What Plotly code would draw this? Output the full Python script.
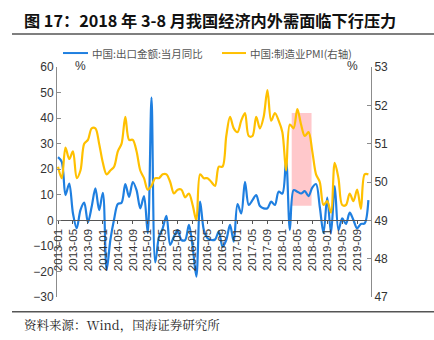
import plotly.graph_objects as go

# Months 2013-01 .. 2019-12
months = [f"{y}-{m:02d}" for y in range(2013, 2020) for m in range(1, 13)]

export_yoy = [
    24.7, 22.9, 9.9, 14.4, 2.7, -3.1, 4.0, 6.9, -0.8, 5.3, 12.5, 4.0,
    10.8, -19.4, -7.7, 0.4, 6.4, 6.9, 14.2, 9.2, 15.0, 11.8, 4.7, 9.5,
    -5.0, 48.0, -16.5, -6.4, -3.1, 1.8, -9.6, -6.4, -3.8, -7.7, -7.7, -1.8,
    -10.3, -22.0, 7.3, -3.8, -7.0, -7.7, -7.5, -4.4, -10.3, -7.7, -1.8, -8.3,
    6.4, 2.7, 15.1, 6.0, 7.9, 9.9, 5.6, 4.7, 4.7, 7.3, 6.0, 11.2,
    10.5, 23.8, -3.8, 11.8, 11.2, 10.5, 11.4, 9.5, 12.8, 14.2, 5.3, -5.0,
    8.9, -5.0, 13.4, -3.8, 0.8, -1.4, 3.0, 0.1, -3.1, -1.4, -1.2, 7.9,
]

pmi = [
    50.4, 50.1, 50.9, 50.6, 50.8, 50.1, 50.3, 51.0, 51.1, 51.4, 51.4, 51.0,
    50.5, 50.2, 50.3, 50.4, 50.8, 51.0, 51.7, 51.1, 51.1, 50.8, 50.3, 50.1,
    49.8, 49.9, 50.1, 50.1, 50.2, 50.2, 50.0, 49.7, 49.8, 49.8, 49.6, 49.7,
    49.4, 49.0, 50.2, 50.1, 50.1, 50.0, 49.9, 50.4, 50.4, 51.2, 51.7, 51.4,
    51.3, 51.6, 51.8, 51.2, 51.2, 51.7, 51.4, 51.7, 52.4, 51.6, 51.8, 51.6,
    51.3, 50.3, 51.5, 51.4, 51.9, 51.5, 51.2, 51.3, 50.8, 50.2, 50.0, 49.4,
    49.5, 49.2, 50.5, 50.1, 49.4, 49.4, 49.7, 49.5, 49.8, 49.3, 50.2, 50.2,
]

left_ticks = [60, 50, 40, 30, 20, 10, 0, -10, -20, -30]
right_ticks = [53, 52, 51, 50, 49, 48, 47]
x_idx = list(range(len(months)))
tick_idx = x_idx[::4]
tick_text = [months[i] for i in tick_idx]

# highlight window 2018-03 .. 2018-08 (month indices), in right-axis units
hl_x = [62.5, 67.8]
hl_y = [49.38, 51.8]

BLUE = "#1F7FE0"
YELLOW = "#FFC000"
AX = "#8C8C8C"
TXT = "#333333"

fig = go.Figure()

fig.add_shape(type="rect", xref="x", yref="y2", x0=hl_x[0], x1=hl_x[1],
              y0=hl_y[0], y1=hl_y[1], fillcolor="rgba(255,170,175,0.65)",
              line_width=0, layer="below")

fig.add_trace(go.Scatter(x=x_idx, y=pmi, yaxis="y2", mode="lines",
                         line=dict(color=YELLOW, width=2.2, shape="spline", smoothing=0.9),
                         showlegend=False))
fig.add_trace(go.Scatter(x=x_idx, y=export_yoy, mode="lines",
                         line=dict(color=BLUE, width=2.2, shape="spline", smoothing=0.9),
                         showlegend=False))

tick_font = dict(family="Liberation Sans, Arial, sans-serif", size=12, color=TXT)

fig.update_layout(
    width=434, height=340,
    margin=dict(l=57, r=63, t=67, b=43),
    paper_bgcolor="white", plot_bgcolor="white",
    xaxis=dict(range=[-0.27, 83.7], tickvals=tick_idx, ticktext=tick_text,
               tickangle=-90, showgrid=False, zeroline=False,
               showline=True, linecolor="#555555", linewidth=1,
               ticks="outside", ticklen=3, tickcolor="#555555",
               anchor="free", position=1/3,
               tickfont=dict(family="Liberation Sans, Arial, sans-serif", size=11.5, color=TXT)),
    yaxis=dict(range=[-30, 60], tickvals=left_ticks, showgrid=False, zeroline=False,
               showline=True, linecolor=AX, linewidth=1,
               ticks="inside", ticklen=4, tickcolor=AX, tickfont=tick_font),
    yaxis2=dict(range=[47, 53], tickvals=right_ticks, overlaying="y", side="right",
                showgrid=False, zeroline=False, showline=True, linecolor=AX, linewidth=1,
                ticks="inside", ticklen=4, tickcolor=AX, tickfont=tick_font),
)

# percent unit labels
fig.add_annotation(xref="paper", yref="paper", x=(80 - 57) / 314, y=1.0,
                   text="%", showarrow=False, xanchor="center", yanchor="bottom",
                   font=dict(family="Liberation Sans, Arial", size=12, color=TXT), yshift=-8)
fig.add_annotation(xref="paper", yref="paper", x=(352 - 57) / 314, y=1.0,
                   text="%", showarrow=False, xanchor="center", yanchor="bottom",
                   font=dict(family="Liberation Sans, Arial", size=12, color=TXT), yshift=-8)

# legend (manual)
leg_font = dict(family="Noto Sans CJK SC", size=10.5, color="#555555")
fig.add_shape(type="line", xref="paper", yref="paper",
              x0=(63 - 57) / 314, x1=(88 - 57) / 314, y0=1 + 14 / 230.6, y1=1 + 14 / 230.6,
              line=dict(color=BLUE, width=2))
fig.add_annotation(xref="paper", yref="paper", x=(90 - 57) / 314, y=1 + 14 / 230.6,
                   text="中国:出口金额:当月同比", showarrow=False,
                   xanchor="left", yanchor="middle", font=leg_font)
fig.add_shape(type="line", xref="paper", yref="paper",
              x0=(222 - 57) / 314, x1=(246 - 57) / 314, y0=1 + 14 / 230.6, y1=1 + 14 / 230.6,
              line=dict(color=YELLOW, width=2))
fig.add_annotation(xref="paper", yref="paper", x=(248 - 57) / 314, y=1 + 14 / 230.6,
                   text="中国:制造业PMI(右轴)", showarrow=False,
                   xanchor="left", yanchor="middle", font=leg_font)

# title and source
fig.add_annotation(xref="paper", yref="paper", x=-35 / 314, y=1 + 47 / 230.6,
                   text="<b>图 17：2018 年 3-8 月我国经济内外需面临下行压力</b>",
                   showarrow=False, xanchor="left", yanchor="middle",
                   font=dict(family="Noto Sans CJK SC", size=16.2, color="#111111"))
fig.add_shape(type="line", xref="paper", yref="paper",
              x0=-45 / 314, x1=377 / 314, y0=1 + 33 / 230.6, y1=1 + 33 / 230.6,
              line=dict(color="#555555", width=1.5))
fig.add_shape(type="line", xref="paper", yref="paper",
              x0=-45 / 314, x1=377 / 314, y0=-(312 - 297.3) / 230.6, y1=-(312 - 297.3) / 230.6,
              line=dict(color="#555555", width=1.5))
fig.add_annotation(xref="paper", yref="paper", x=-35 / 314, y=-(325 - 297.3) / 230.6,
                   text="资料来源：Wind，国海证券研究所", showarrow=False,
                   xanchor="left", yanchor="middle",
                   font=dict(family="Noto Serif CJK SC, Noto Sans CJK SC", size=12.5, color="#222222"))

fig.write_html("out.html")
